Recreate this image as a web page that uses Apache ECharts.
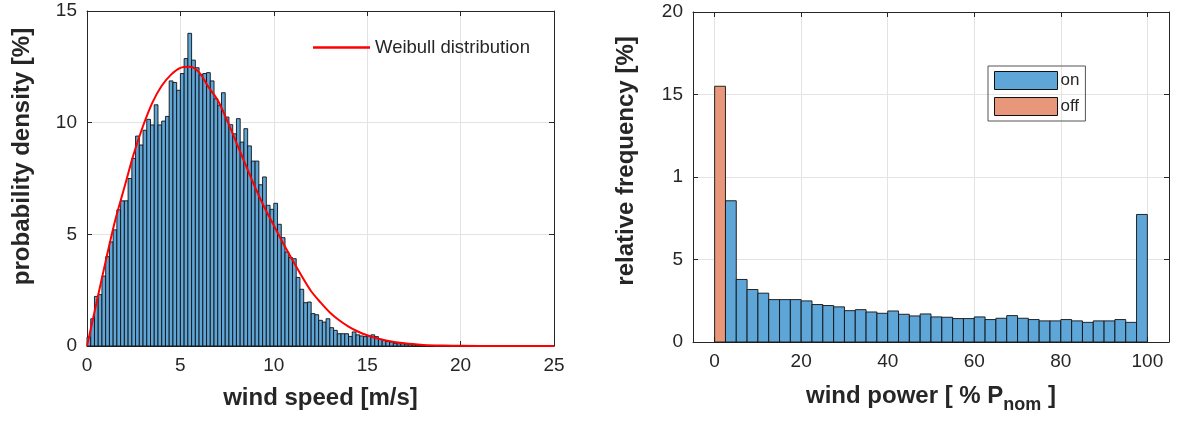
<!DOCTYPE html>
<html>
<head>
<meta charset="utf-8">
<script src="https://cdn.jsdelivr.net/npm/echarts@6/dist/echarts.min.js"></script>
<style>
  html, body { margin: 0; padding: 0; background: #fff; }
  #chart { width: 1177px; height: 421px; }
</style>
</head>
<body>
<div id="chart"></div>
<script>
// wind speed histogram, 0.2 m/s bins starting at 0
const speedBinWidth = 0.2
const speedDensity = [
  0.4, 1.22, 2.22, 2.3, 3.13, 4.0, 4.66, 5.2, 6.1, 6.5,
  6.5, 7.5, 8.4, 9.4, 9.0, 9.66, 10.15, 9.9, 10.8, 9.9,
  10.07, 10.28, 11.87, 11.8, 11.45, 12.2, 12.87, 14.0, 12.8, 12.46,
  12.15, 12.2, 12.24, 11.87, 11.07, 10.78, 11.34, 10.25, 9.91, 9.5,
  10.18, 9.13, 9.73, 8.96, 8.28, 8.28, 7.22, 7.57, 6.3, 6.12,
  6.39, 5.45, 4.85, 4.21, 3.96, 3.91, 3.07, 2.54, 1.94, 1.97,
  1.45, 1.4, 1.15, 1.07, 1.22, 0.82, 0.7, 0.55, 0.55, 0.55,
  0.43, 0.63, 0.5, 0.45, 0.42, 0.45, 0.5, 0.42, 0.3, 0.25,
  0.2, 0.18, 0.12, 0.1, 0.1, 0.08, 0.07, 0.05, 0.04, 0.03,
  0.03, 0.02, 0.02
]

// Weibull fit, points
const weibullX = [0, 0.5, 1, 1.5, 2, 2.5, 3, 3.5, 4, 4.5, 5, 5.5, 6, 6.5, 7, 7.5, 8, 8.5, 9, 9.5, 10, 10.5, 11, 11.5, 12, 12.5, 13, 13.5, 14, 14.5, 15, 15.5, 16, 17, 18, 19, 20, 22, 25]
const weibullY = [0, 1.9, 3.8, 5.6, 7.1, 8.6, 9.85, 10.9, 11.65, 12.15, 12.45, 12.5, 12.25, 11.6, 11.0, 10.1, 9.1, 8.1, 7.1, 6.2, 5.4, 4.6, 3.85, 3.12, 2.45, 1.95, 1.5, 1.15, 0.87, 0.65, 0.48, 0.35, 0.25, 0.12, 0.05, 0.02, 0.01, 0, 0]

// wind power histogram, 2.5 % bins
const powerBinWidth = 2.5
const powerOffStart = 0
const powerOff = [15.5]
const powerOnStart = 2.5
const powerOn = [
  8.56, 3.79, 3.18, 2.96, 2.57, 2.57, 2.57, 2.49, 2.27, 2.21,
  2.13, 1.9, 1.96, 1.82, 1.74, 1.88, 1.68, 1.58, 1.7, 1.52,
  1.5, 1.42, 1.42, 1.52, 1.36, 1.44, 1.6, 1.44, 1.36, 1.28,
  1.28, 1.36, 1.28, 1.19, 1.28, 1.28, 1.36, 1.19, 7.73
]

const speedTicks = [0, 5, 10, 15, 20, 25]
const densityTicks = [0, 5, 10, 15]
const powerTicks = [0, 20, 40, 60, 80, 100]
const freqTickLabels = ['0', '5', '1', '15', '20']

const ink = '#262626'
const gridCol = '#e3e3e3'
const blue = '#5ea5d8'
const orange = '#e8977a'
const font = 'Liberation Sans, Arial, sans-serif'

const toBins = (start, width, vals) =>
  vals.map((v, i) => [start + i * width, start + (i + 1) * width, v])

const renderBar = (params, api) => {
  const p0 = api.coord([api.value(0), api.value(2)])
  const p1 = api.coord([api.value(1), 0])
  return {
    type: 'rect',
    shape: { x: p0[0], y: p0[1], width: p1[0] - p0[0], height: p1[1] - p0[1] },
    style: { fill: api.visual('color'), stroke: '#111', lineWidth: 0.9 }
  }
}

const labelStyle = { color: ink, fontSize: 19, fontFamily: font }
const nameStyle = { color: ink, fontSize: 24, fontWeight: 'bold', fontFamily: font }

const baseAxis = (gridIndex, min, max, extra) => Object.assign({
  type: 'value',
  gridIndex,
  min,
  max,
  axisLine: { show: true, onZero: false, lineStyle: { color: ink, width: 1 } },
  axisTick: { show: true, inside: true, length: 5, lineStyle: { color: ink } },
  splitLine: { show: true, lineStyle: { color: gridCol, width: 1 } },
  axisLabel: Object.assign({ margin: 10 }, labelStyle)
}, extra)

const mirror = (gridIndex, min, max, position, extra) => Object.assign(baseAxis(gridIndex, min, max, extra), {
  position,
  axisLabel: { show: false },
  splitLine: { show: false },
  name: ''
})

const chart = echarts.init(document.getElementById('chart'))

const option = {
  animation: false,
  backgroundColor: '#fff',
  grid: [
    { left: 87, top: 11, width: 467, height: 335 },
    { left: 693, top: 12, width: 476, height: 330 }
  ],
  legend: [
    {
      data: ['Weibull distribution'],
      left: 308,
      top: 33,
      icon: 'rect',
      itemWidth: 57,
      itemHeight: 2.5,
      itemGap: 6,
      itemStyle: { color: '#ff0000' },
      textStyle: { color: ink, fontSize: 18.5, fontFamily: font }
    },
    {
      data: ['on', 'off'],
      orient: 'vertical',
      left: 988,
      top: 66,
      icon: 'rect',
      padding: [5, 6, 5, 6],
      itemGap: 7,
      itemWidth: 63,
      itemHeight: 18,
      borderColor: '#555',
      borderWidth: 1,
      itemStyle: { borderColor: '#111', borderWidth: 1 },
      textStyle: { color: ink, fontSize: 17, fontFamily: font, padding: [0, 0, 0, -2] }
    }
  ],
  xAxis: [
    baseAxis(0, 0, 25, {
      interval: 5,
      name: 'wind speed [m/s]',
      nameLocation: 'middle',
      nameGap: 40,
      nameTextStyle: nameStyle,
      axisLabel: Object.assign({ margin: 10, formatter: v => speedTicks.includes(v) ? String(v) : '' }, labelStyle)
    }),
    mirror(0, 0, 25, 'top', { interval: 5 }),
    baseAxis(1, -5, 105, {
      splitNumber: 5,
      name: '{a|wind power [ % P}{s|nom}{a| ]}',
      nameLocation: 'middle',
      nameGap: 37,
      nameTextStyle: {
        rich: {
          a: Object.assign({}, nameStyle),
          s: Object.assign({}, nameStyle, { fontSize: 18, padding: [17, 0, 0, 0] })
        }
      },
      axisLabel: Object.assign({
        margin: 10,
        showMinLabel: false,
        showMaxLabel: false,
        formatter: v => powerTicks.includes(v) ? String(Math.abs(v)) : ''
      }, labelStyle)
    }),
    mirror(1, -5, 105, 'top', { splitNumber: 5 })
  ],
  yAxis: [
    baseAxis(0, 0, 15, {
      interval: 5,
      name: 'probability density [%]',
      nameLocation: 'middle',
      nameGap: 53,
      nameTextStyle: Object.assign({ padding: [0, 0, 0, 44] }, nameStyle),
      axisLabel: Object.assign({ margin: 10, formatter: v => densityTicks.includes(v) ? String(v) : '' }, labelStyle)
    }),
    mirror(0, 0, 15, 'right', { interval: 5 }),
    baseAxis(1, 0, 20, {
      interval: 5,
      name: 'relative frequency [%]',
      nameLocation: 'middle',
      nameGap: 55,
      nameTextStyle: Object.assign({ padding: [0, 0, 0, 32] }, nameStyle),
      axisLabel: Object.assign({ margin: 10, formatter: v => freqTickLabels[v / 5] }, labelStyle)
    }),
    mirror(1, 0, 20, 'right', { interval: 5 })
  ],
  series: [
    {
      name: 'speed',
      type: 'custom',
      xAxisIndex: 0,
      yAxisIndex: 0,
      renderItem: renderBar,
      itemStyle: { color: blue },
      encode: { x: [0, 1], y: 2 },
      data: toBins(0, speedBinWidth, speedDensity),
      z: 2
    },
    {
      name: 'Weibull distribution',
      type: 'line',
      xAxisIndex: 0,
      yAxisIndex: 0,
      smooth: 0.3,
      symbol: 'none',
      lineStyle: { color: '#ff0000', width: 2 },
      itemStyle: { color: '#ff0000' },
      data: weibullX.map((x, i) => [x, weibullY[i]]),
      z: 3
    },
    {
      name: 'on',
      type: 'custom',
      xAxisIndex: 2,
      yAxisIndex: 2,
      renderItem: renderBar,
      itemStyle: { color: blue },
      encode: { x: [0, 1], y: 2 },
      data: toBins(powerOnStart, powerBinWidth, powerOn),
      z: 2
    },
    {
      name: 'off',
      type: 'custom',
      xAxisIndex: 2,
      yAxisIndex: 2,
      renderItem: renderBar,
      itemStyle: { color: orange },
      encode: { x: [0, 1], y: 2 },
      data: toBins(powerOffStart, powerBinWidth, powerOff),
      z: 2
    }
  ]
}

chart.setOption(option)
</script>
</body>
</html>
